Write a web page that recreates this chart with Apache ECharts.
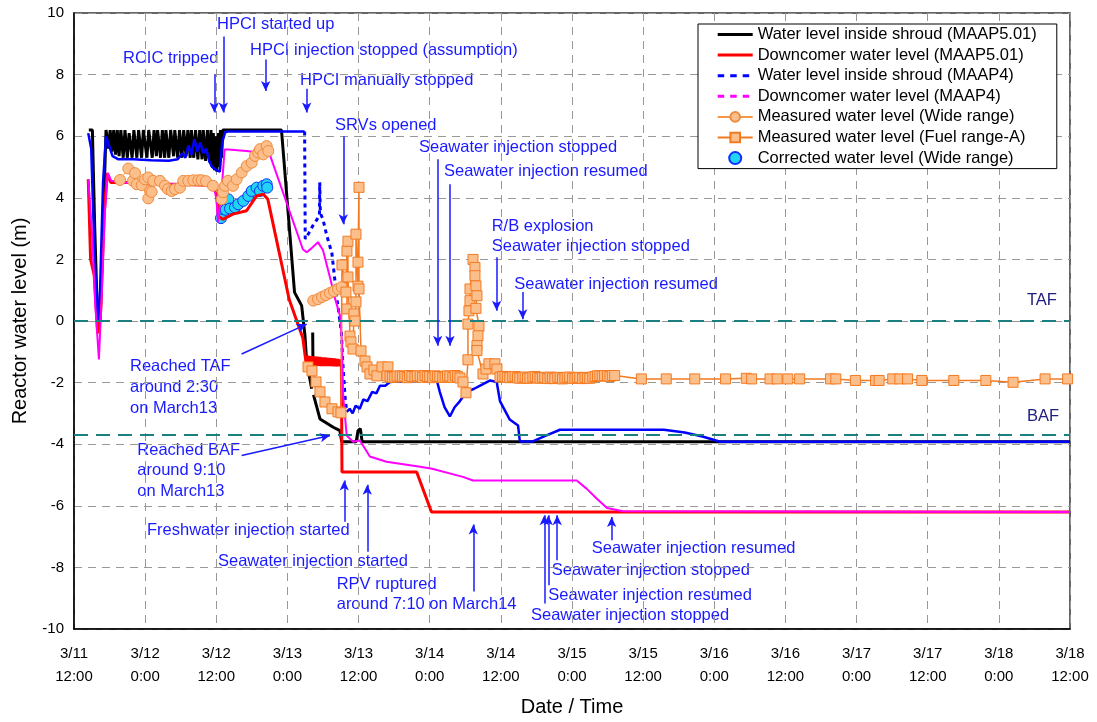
<!DOCTYPE html>
<html>
<head>
<meta charset="utf-8">
<script src="https://cdn.jsdelivr.net/npm/echarts@6.0.0/dist/echarts.min.js"></script>
<style>
html, body { margin: 0; padding: 0; background: #fff; }
#main { width: 1097px; height: 722px; }
</style>
</head>
<body>
<div id="main"></div>
<script>
// x = hours after 3/11 12:00, y = water level (m)
const xTickLabels = ['3/11\n12:00', '3/12\n0:00', '3/12\n12:00', '3/13\n0:00', '3/13\n12:00', '3/14\n0:00', '3/14\n12:00',
  '3/15\n0:00', '3/15\n12:00', '3/16\n0:00', '3/16\n12:00', '3/17\n0:00', '3/17\n12:00', '3/18\n0:00', '3/18\n12:00']

const names = [
  'Water level inside shroud (MAAP5.01)',
  'Downcomer water level (MAAP5.01)',
  'Water level inside shroud (MAAP4)',
  'Downcomer water level (MAAP4)',
  'Measured water level (Wide range)',
  'Measured water level (Fuel range-A)',
  'Corrected water level (Wide range)'
]

const shroud501 = [
  [2.5, 6.2], [3.1, 6.2], [3.5, 3.0], [3.9, 0.5], [4.4, 0.0], [4.9, 3.0], [5.4, 6.2],
  [5.8, 5.6], [6.1, 6.2], [6.4, 5.5], [6.7, 6.2], [7.0, 5.4], [7.3, 6.2], [7.6, 5.35], [7.9, 6.2], [8.3, 5.3], [8.6, 6.2],
  [9.0, 5.3], [9.3, 6.1], [9.8, 5.3], [10.1, 6.2], [10.6, 5.3], [10.9, 6.2], [11.4, 5.3], [11.7, 6.2], [12.3, 5.3],
  [12.6, 6.2], [13.2, 5.3], [13.5, 6.2], [13.9, 5.35], [14.1, 6.2], [14.6, 5.3], [14.9, 6.2], [15.3, 5.3], [15.5, 6.2],
  [16.0, 5.3], [16.3, 6.2], [16.8, 5.35], [17.0, 6.2], [17.5, 5.3], [17.8, 6.2], [18.2, 5.3], [18.5, 6.2], [18.9, 5.35],
  [19.2, 6.2], [19.6, 5.3], [19.8, 6.2], [20.2, 5.3], [20.5, 6.2], [20.9, 5.25], [21.2, 6.2], [21.6, 5.25], [21.8, 6.2],
  [22.2, 5.2], [22.5, 6.2], [22.9, 5.15], [23.1, 6.2], [23.3, 5.0], [23.5, 6.1], [23.7, 4.9], [23.9, 6.0], [24.1, 4.85],
  [24.3, 6.1], [24.5, 5.0], [24.7, 6.2], [24.9, 5.3], [25.1, 6.2],
  [35.0, 6.2], [37.2, 0.93], [38.4, 0.5], [38.96, -0.48], [39.25, -1.34], [40.09, -2.2], [40.2, '-'],
  [40.26, -0.37], [40.3, -1.23], [40.35, '-'], [40.4, -2.4], [41.49, -3.18], [43.73, -3.45], [44.86, -3.56],
  [45.15, -3.92], [47.6, -3.92], [47.9, -3.56], [48.3, -3.5], [48.6, -3.92], [168, -3.92]
]

const downcomer501 = [
  [2.4, 4.6], [2.8, 2.0], [3.4, 1.5], [4.0, -0.4], [4.5, 0.3], [5.1, 3.5], [5.6, 4.8], [6.2, 4.5], [10, 4.5],
  [15, 4.45], [20, 4.42], [23.9, 4.4], [24.4, 3.4], [25.1, 3.3], [26.8, 3.47], [29.1, 3.58], [30.8, 4.06],
  [31.9, 4.12], [32.7, 3.95], [36.3, 0.7], [38.6, -0.55], [39.0, -1.15],
  [39.2, -1.45], [39.5, -1.13], [39.7, -1.45], [40.0, -1.14], [40.2, -1.45], [40.5, -1.15], [40.7, -1.45],
  [41.0, -1.16], [41.2, -1.45], [41.5, -1.17], [41.7, -1.46], [42.0, -1.18], [42.2, -1.46], [42.5, -1.19],
  [42.7, -1.46], [43.0, -1.2], [43.2, -1.46], [43.5, -1.21], [43.7, -1.47], [44.0, -1.22], [44.2, -1.47],
  [44.5, -1.23], [44.7, -1.47], [44.95, -1.25], [45.1, -1.4], [45.2, -4.9], [57.8, -4.9], [60.3, -6.2], [168, -6.2]
]

const shroud4 = [
  [2.4, 6.1], [2.9, 5.6], [3.5, 2.0], [4.0, 0.0], [4.4, 1.0], [4.9, 4.5], [5.4, 6.0], [5.9, 5.7], [6.5, 5.35],
  [7.5, 5.25], [10, 5.25], [13, 5.22], [16, 5.2], [17.5, 5.25], [18.3, 5.45], [18.8, 5.3], [19.3, 5.7], [19.8, 5.4],
  [20.3, 5.9], [20.8, 5.5], [21.3, 5.8], [21.8, 5.45], [22.3, 5.6], [22.8, 5.2], [23.3, 5.0], [24.0, 4.9],
  [24.6, 4.85], [25.0, 5.8], [25.5, 6.13], [26, 6.15], [38.9, 6.15], [39.0, '-'],
  [46.0, -2.95], [46.5, -2.85], [47.0, -3.0], [47.5, -2.75], [48.2, -2.85], [48.8, -2.55], [49.5, -2.6],
  [50.3, -2.3], [51.0, -2.35], [51.6, -2.1], [52.5, -2.1], [53.3, -1.98], [55, -1.96], [58, -1.94], [61.2, -1.93],
  [61.7, -2.3], [62.5, -2.8], [63.4, -3.1], [64.2, -2.8], [65.1, -2.6], [66.2, -2.3], [67.5, -2.2], [68.5, -2.1],
  [70.2, -1.93], [71.3, -1.98], [71.85, -2.6], [73.5, -3.2], [74.9, -3.39], [75.2, -3.91], [77.4, -3.91],
  [79.1, -3.76], [81.97, -3.53], [99.5, -3.53], [103, -3.62], [106, -3.75], [109, -3.92], [168, -3.92]
]
// dotted stretch of the MAAP4 shroud curve
const shroud4Drop = [
  [38.9, 6.15], [39.0, 2.66], [39.6, 2.85], [40.3, 3.1], [41.0, 3.3], [41.4, 3.45], [41.45, 4.5], [41.55, 3.5],
  [42.0, 3.3], [42.6, 2.8], [43.5, 2.2], [44.3, 0.8], [45.1, -0.36], [45.3, -1.23], [45.7, -2.42], [46.0, -2.95]
]

const downcomer4 = [
  [2.4, 4.6], [3.0, 3.0], [3.6, 0.5], [4.2, -1.25], [4.6, 0.5], [5.2, 3.5], [5.7, 4.8], [6.3, 4.55], [8, 4.5],
  [12, 4.45], [16, 4.45], [20, 4.42], [23.5, 4.4], [24.0, 4.0], [24.3, 3.2], [25.0, 4.5], [25.4, 5.57], [26, 5.57],
  [29.1, 5.52], [33.0, 5.42], [38.6, 2.33], [39.25, 2.23], [40.0, 2.35], [41.15, 2.56], [42.0, 2.3], [43.2, 1.4],
  [44.0, 0.75], [44.9, 0.15], [45.2, -0.7], [45.4, -2.42], [46.0, -3.72], [47.06, -3.92], [48.2, -3.88],
  [49.1, -4.15], [49.9, -4.4], [52.7, -4.57], [58.4, -4.73], [60.4, -4.8], [65.6, -5.06], [67.3, -5.18],
  [84.8, -5.18], [86.5, -5.45], [88.2, -5.77], [89.9, -6.07], [92.6, -6.18], [168, -6.2]
]

const wideRange = [
  [7.76, 4.58], [9.16, 4.95], [9.95, 4.55], [10.29, 4.8], [10.58, 4.44], [11.42, 4.41], [11.98, 4.6], [12.53, 4.66],
  [12.53, 3.98], [12.82, 4.22], [13.1, 4.19], [13.37, 4.55], [14.5, 4.55], [15.35, 4.39], [15.85, 4.28],
  [16.48, 4.22], [17.03, 4.28], [17.88, 4.33], [18.43, 4.55], [19.28, 4.55], [20.12, 4.57], [20.97, 4.57],
  [21.54, 4.57], [22.26, 4.54], [23.44, 4.39],
  [24.91, 3.95], [25.13, 4.18], [25.47, 4.39], [25.97, 4.55], [26.82, 4.39], [27.44, 4.6], [28.28, 4.82],
  [29.13, 5.03], [29.97, 5.14], [30.53, 5.36], [31.08, 5.47], [31.37, 5.58], [31.93, 5.41], [32.5, 5.68],
  [32.77, 5.52], [36, '-'],
  [40.36, 0.66], [41.15, 0.71], [41.83, 0.78], [42.5, 0.84], [43.18, 0.91], [43.85, 0.97], [44.53, 1.04], [45.15, 1.1]
]

const fuelRangeA = [
  [39.47, -1.49], [40.14, -1.62], [40.82, -1.98], [41.49, -2.3], [42.33, -2.63], [43.51, -2.85], [44.53, -2.95],
  [45.03, -2.98], [45.2, 1.82], [45.87, 0.94], [46.04, 2.27], [46.04, 0.39], [46.21, 2.59], [46.21, 1.43],
  [46.55, -0.49], [46.72, -0.68], [47.06, -0.91], [47.22, 0.23], [47.39, 0.0], [47.56, 0.62], [47.56, 2.82],
  [47.9, 1.13], [47.9, 1.91], [48.07, 4.34], [48.07, 1.04], [48.41, -0.97], [49.08, -1.3], [49.42, -1.49],
  [49.92, -1.72], [50.6, -1.59], [51.1, -1.78], [51.95, -1.49], [52.96, -1.49], [52.8, -1.78],
  [53.3, -1.8], [53.7, -1.83], [54.1, -1.82], [54.5, -1.79], [55.0, -1.78], [55.4, -1.81], [55.8, -1.8],
  [56.2, -1.84], [56.6, -1.77], [57.0, -1.8], [57.5, -1.81], [57.9, -1.78], [58.4, -1.79], [58.8, -1.83],
  [59.2, -1.77], [59.6, -1.8], [60.0, -1.8], [60.5, -1.84], [60.9, -1.78], [61.3, -1.8], [61.7, -1.8],
  [62.2, -1.83], [62.6, -1.82], [63.0, -1.78], [63.4, -1.79], [63.9, -1.83], [64.3, -1.77], [64.7, -1.81],
  [65.1, -1.85],
  [65.61, -1.98], [66.12, -2.33], [66.45, -1.26], [66.45, -0.1], [66.62, 0.33], [66.79, 0.66], [66.79, 1.04],
  [67.3, 2.0], [67.63, 1.74], [67.63, 1.47], [67.8, 1.14], [67.97, 0.82], [67.8, 0.41], [68.31, -0.17],
  [68.14, -0.48], [67.97, -0.8], [67.97, -0.96], [68.98, -1.72], [69.49, -1.56], [69.99, -1.39], [71.0, -1.39],
  [71.34, -1.56], [71.85, -1.82],
  [72.3, -1.8], [72.7, -1.8], [73.1, -1.83], [73.5, -1.84], [74.0, -1.81], [74.4, -1.8], [74.8, -1.84],
  [75.2, -1.86], [75.7, -1.83], [76.1, -1.82], [76.5, -1.86], [76.9, -1.85], [77.4, -1.82], [77.8, -1.8],
  [78.2, -1.84], [78.6, -1.86], [79.0, -1.83], [79.4, -1.84], [79.9, -1.87], [80.3, -1.82], [80.7, -1.85],
  [81.1, -1.87], [81.6, -1.83], [82.0, -1.84], [82.4, -1.88], [82.8, -1.85], [83.2, -1.83], [83.6, -1.82],
  [84.1, -1.86], [84.5, -1.86], [84.9, -1.83], [85.3, -1.84], [85.8, -1.87], [86.2, -1.83], [86.6, -1.85],
  [87.0, -1.86], [87.5, -1.82], [87.9, -1.8], [88.3, -1.78], [88.7, -1.77], [89.1, -1.79], [89.5, -1.77],
  [90.0, -1.78], [90.4, -1.8], [90.8, -1.77], [91.2, -1.77],
  [95.7, -1.88], [99.9, -1.88], [104.7, -1.88], [109.9, -1.88], [113.4, -1.86], [114.3, -1.88], [117.4, -1.88],
  [118.6, -1.88], [120.4, -1.88], [122.4, -1.88], [127.6, -1.88], [128.5, -1.88], [131.8, -1.93], [135.2, -1.93],
  [135.8, -1.93], [138.1, -1.88], [139.3, -1.88], [140.6, -1.88], [143.0, -1.93], [148.4, -1.93], [153.8, -1.93],
  [158.4, -1.99], [163.8, -1.88], [167.6, -1.88]
]

const corrected = [
  [24.79, 3.34], [25.18, 3.63], [25.59, 3.61], [26.03, 3.95], [26.31, 3.65], [27.15, 3.69], [27.71, 3.79],
  [28.55, 3.9], [29.4, 4.06], [29.97, 4.22], [30.81, 4.33], [31.37, 4.22], [31.93, 4.39], [32.5, 4.44], [32.6, 4.33]
]

// TAF / BAF levels
const refLevels = [0, -3.7]

// annotation arrows [x1, y1, x2, y2]
const arrows = [
  [23.66, 8.0, 23.66, 6.77], [25.18, 9.24, 25.18, 6.77], [32.33, 8.49, 32.33, 7.47], [39.25, 7.54, 39.25, 6.77],
  [45.42, 6.0, 45.42, 3.14], [61.34, 5.25, 61.34, -0.8], [63.42, 4.44, 63.42, -0.8], [71.29, 2.07, 71.29, 0.33],
  [75.68, 0.94, 75.68, 0.06], [28.28, -1.07, 39.25, -0.1], [28.28, -4.37, 43.18, -3.72],
  [45.59, -6.52, 45.59, -5.18], [49.47, -7.49, 49.47, -5.32], [67.35, -8.78, 67.35, -6.61],
  [79.32, -9.17, 79.32, -6.31], [80.0, -8.58, 80.0, -6.31], [81.51, -7.77, 81.51, -6.31], [90.69, -7.12, 90.69, -6.36]
]

const notes = [
  ['RCIC tripped', 123, 58],
  ['HPCI started up', 217, 24],
  ['HPCI injection stopped (assumption)', 250, 50],
  ['HPCI manually stopped', 300, 80],
  ['SRVs opened', 335, 125],
  ['Seawater injection stopped', 419, 147],
  ['Seawater injection resumed', 444, 171.7],
  ['R/B explosion\nSeawater injection stopped', 491.7, 226],
  ['Seawater injection resumed', 514.3, 284.3],
  ['Reached TAF\naround 2:30\non March13', 130, 366.7],
  ['Reached BAF\naround 9:10\non March13', 137.3, 450],
  ['Freshwater injection started', 147, 530],
  ['Seawater injection started', 218, 561.7],
  ['RPV ruptured\naround 7:10 on March14', 336.7, 584],
  ['Seawater injection resumed', 591.7, 548.3],
  ['Seawater injection stopped', 551.7, 570.7],
  ['Seawater injection resumed', 548.3, 595],
  ['Seawater injection stopped', 531, 615]
]

const FONT = '"Liberation Sans", Arial, sans-serif'
const BLUE_TXT = '#1a1aff'
const ORANGE = '#f47a20'
const PEACH = '#fbbf8c'
// legend line samples
const SOLID_ICON = 'path://M0,0H35V3H0Z'
const DASH_ICON = 'path://M0,0H6.5V3H0Z M12.5,0H19V3H12.5Z M25,0H31.5V3H25Z M35,0H35V3H35Z'

const chart = echarts.init(document.getElementById('main'))

const graphic = notes.map(n => ({
  type: 'text',
  x: n[1],
  y: n[2] - 10.35,
  silent: true,
  style: { text: n[0], fill: BLUE_TXT, fontSize: 16.5, fontFamily: FONT, lineHeight: 20.7, verticalAlign: 'top' }
}))
graphic.push(
  { type: 'text', x: 1027, y: 292, silent: true, style: { text: 'TAF', fill: '#202080', fontSize: 16.5, fontFamily: FONT } },
  { type: 'text', x: 1027, y: 408, silent: true, style: { text: 'BAF', fill: '#202080', fontSize: 16.5, fontFamily: FONT } }
)

const plainLine = (name, data, color, width) => ({
  name,
  type: 'line',
  data,
  symbol: 'none',
  showSymbol: false,
  silent: true,
  lineStyle: { color, width },
  itemStyle: { color }
})

const option = {
  animation: false,
  grid: { left: 74, right: 27, top: 13, bottom: 92, show: true, borderColor: '#333', borderWidth: 1.5 },
  legend: {
    orient: 'vertical',
    left: 698,
    top: 24,
    itemWidth: 35,
    itemHeight: 12,
    itemGap: 3.6,
    padding: [2, 20, 2, 18.7],
    borderColor: '#000',
    borderWidth: 1,
    borderRadius: 0,
    backgroundColor: '#fff',
    selectedMode: false,
    textStyle: { fontSize: 16.5, fontFamily: FONT, color: '#000' },
    data: [
      { name: names[0], icon: SOLID_ICON },
      { name: names[1], icon: SOLID_ICON },
      { name: names[2], icon: DASH_ICON },
      { name: names[3], icon: DASH_ICON },
      { name: names[4] },
      { name: names[5] },
      { name: names[6], itemStyle: { borderColor: '#1030ff' } }
    ]
  },
  xAxis: {
    type: 'value',
    min: 0,
    max: 168,
    interval: 12,
    name: 'Date / Time',
    nameLocation: 'middle',
    nameGap: 68,
    nameTextStyle: { fontSize: 20, fontFamily: FONT, color: '#000' },
    axisLine: { show: true, onZero: false, lineStyle: { color: '#000', width: 1.5 } },
    axisTick: { show: false },
    axisLabel: {
      formatter: v => xTickLabels[Math.round(v / 12)],
      fontSize: 15,
      fontFamily: FONT,
      color: '#000',
      lineHeight: 23,
      margin: 13
    },
    splitLine: { show: true, lineStyle: { color: '#999', type: [8, 6], width: 1 } }
  },
  yAxis: {
    type: 'value',
    min: -10,
    max: 10,
    interval: 2,
    name: 'Reactor water level (m)',
    nameLocation: 'middle',
    nameGap: 44,
    nameTextStyle: { fontSize: 20, fontFamily: FONT, color: '#000' },
    axisLine: { show: true, onZero: false, lineStyle: { color: '#000', width: 1.5 } },
    axisTick: { show: false },
    axisLabel: { fontSize: 15, fontFamily: FONT, color: '#000', margin: 10 },
    splitLine: { show: true, lineStyle: { color: '#999', type: [8, 6], width: 1 } }
  },
  graphic: graphic,
  series: [
    {
      type: 'line',
      data: [],
      silent: true,
      markLine: {
        silent: true,
        symbol: 'none',
        label: { show: false },
        lineStyle: { color: '#1a8080', width: 2, type: [14, 8] },
        data: refLevels.map(v => [{ coord: [0, v] }, { coord: [168, v] }])
      }
    },
    plainLine(names[0], shroud501, '#000000', 3),
    plainLine(names[1], downcomer501, '#ff0000', 3),
    plainLine(names[2], shroud4, '#0000ff', 2.5),
    Object.assign(plainLine('', shroud4Drop, '#0000ff', 2.5), { lineStyle: { color: '#0000ff', width: 3, type: [4, 4] } }),
    plainLine(names[3], downcomer4, '#ff00ff', 2),
    {
      name: names[4],
      type: 'line',
      data: wideRange,
      symbol: 'circle',
      symbolSize: 11,
      silent: true,
      lineStyle: { color: '#f79646', width: 1 },
      itemStyle: { color: PEACH, borderColor: '#f08a3c', borderWidth: 1 }
    },
    {
      name: names[5],
      type: 'line',
      data: fuelRangeA,
      symbol: 'rect',
      symbolSize: 10,
      silent: true,
      lineStyle: { color: ORANGE, width: 1.5 },
      itemStyle: { color: PEACH, borderColor: ORANGE, borderWidth: 1 }
    },
    {
      name: names[6],
      type: 'scatter',
      data: corrected,
      symbol: 'circle',
      symbolSize: 11,
      silent: true,
      itemStyle: { color: '#22d4f4', borderColor: '#1030ff', borderWidth: 1, opacity: 1 }
    },
    {
      type: 'line',
      data: [],
      silent: true,
      markLine: {
        silent: true,
        symbol: ['none', 'arrow'],
        symbolSize: [7, 10],
        label: { show: false },
        lineStyle: { color: BLUE_TXT, width: 1.5, type: 'solid' },
        data: arrows.map(a => [{ coord: [a[0], a[1]] }, { coord: [a[2], a[3]] }])
      }
    }
  ]
}

chart.setOption(option)
</script>
</body>
</html>
